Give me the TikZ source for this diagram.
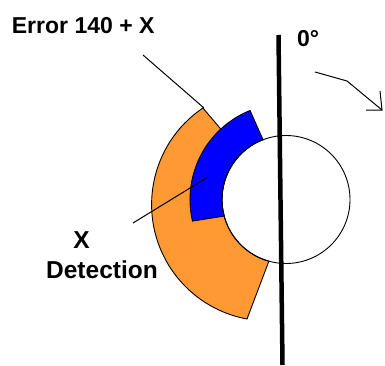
\documentclass[tikz,border=0pt]{standalone}
\usepackage{fontspec}
\setmainfont{Liberation Sans}
\usetikzlibrary{calc}
\definecolor{orangefill}{RGB}{255,153,51}
\definecolor{bluefill}{RGB}{0,0,255}
\begin{document}
\begin{tikzpicture}[x=1pt,y=1pt,
  lbl/.style={inner sep=0pt, font=\fontsize{23}{23}\selectfont\bfseries},
  lbl2/.style={inner sep=0pt, font=\fontsize{24.5}{24.5}\selectfont\bfseries},
  thin outline/.style={draw=black, line width=0.9pt},
  leader/.style={draw=black, line width=1pt},
  axisline/.style={draw=black, line width=4.5pt}]
\useasboundingbox (0,0) rectangle (385,365);
\coordinate (C) at (286,165.5);
\coordinate (O) at (268,160.5);
% orange sector
\path[thin outline, fill=orangefill]
  ($(O)+(124:116.4)$) arc[start angle=124, end angle=259.6, radius=116.4]
  -- ($(C)+(254.5:64)$) arc[start angle=254.5, end angle=134, radius=64] -- cycle;
% blue sector
\path[thin outline, fill=bluefill]
  ($(C)+(112:96)$) arc[start angle=112, end angle=193, radius=96]
  -- ($(C)+(195:64)$) arc[start angle=195, end angle=111, radius=64] -- cycle;
% circle
\draw[line width=0.9pt] (C) circle[radius=64];
% thick axis line
\coordinate (t1) at (278.5,330);
\coordinate (t2) at (282.5,0);
\draw[axisline] (t1) -- (t2);
% labels
\node[lbl, anchor=base west] (err) at (11.7,331.5) {Error 140 + X};
\node[lbl, anchor=base west] (zero) at (297,318) {0°};
\node[lbl2, anchor=base] (xl) at (81.5,117) {X};
\node[lbl2, anchor=base east] (det) at (158,87) {Detection};
% leader lines
\coordinate (e1) at (143,310);
\coordinate (e2) at (204,257);
\draw[leader] (e1) -- (e2);
\coordinate (d1) at (133,142);
\coordinate (d2) at (208,188);
\draw[leader] (d1) -- (d2);
% rotation arrow
\coordinate (a1) at (315,293);
\coordinate (a2) at (347,284);
\coordinate (a3) at (382,255);
\coordinate (h1) at (380,274);
\coordinate (h2) at (366,255);
\draw[leader] (a1) -- (a2) -- (a3);
\draw[leader] (h1) -- (a3) -- (h2);
\end{tikzpicture}
\end{document}
